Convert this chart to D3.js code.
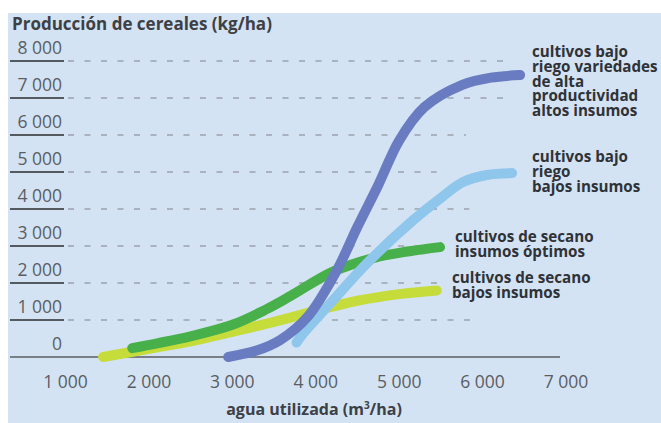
<!DOCTYPE html>
<html><head><meta charset="utf-8">
<script src="https://cdn.jsdelivr.net/npm/d3@7"></script>
<style>
html,body{margin:0;padding:0;background:#fff;}
svg{display:block;}
text{font-family:"Open Sans",sans-serif;}
</style></head>
<body>
<script>
// ---- data ----
const yTicks = [0,1000,2000,3000,4000,5000,6000,7000,8000];
const xTicks = [1000,2000,3000,4000,5000,6000,7000];
const yTickLabels = ["0","1 000","2 000","3 000","4 000","5 000","6 000","7 000","8 000"];
const xTickLabels = ["1 000","2 000","3 000","4 000","5 000","6 000","7 000"];

const secanoBajos = [[1450,0],[2000,220],[2500,420],[3000,680],[3500,950],[4000,1250],[4500,1520],[5000,1700],[5450,1800]];
const secanoOptimos = [[1800,240],[2100,370],[2500,560],[3000,870],[3400,1280],[3700,1650],[4200,2300],[4700,2680],[5100,2850],[5490,2970]];
const riegoBajos = [[3770,390],[3850,640],[4174,1450],[4617,2540],[5168,3700],[5500,4300],[5766,4730],[6050,4920],[6353,4970]];
const riegoAltos = [[2950,0],[3300,180],[3575,460],[3900,1080],[4250,2330],[4500,3520],[4750,4650],[5000,5850],[5300,6750],[5750,7350],[6100,7550],[6450,7620]];

const seriesNames = [
  ["cultivos de secano","bajos insumos"],
  ["cultivos de secano","insumos óptimos"],
  ["cultivos bajo","riego","bajos insumos"],
  ["cultivos bajo","riego variedades","de alta","productividad","altos insumos"]
];
const seriesColors = ["#c6dc3a","#48b04a","#8fc6ec","#6a7cc1"];
const seriesData = [secanoBajos, secanoOptimos, riegoBajos, riegoAltos];
// label anchor (in data units)
const labelAnchors = [[5633,2000],[5669,3108],[6592,5270],[6592,8108]];
// where each dashed gridline stops (in water units)
const gridEnds = {1000:5850,2000:5480,3000:5550,4000:5840,5000:5450,6000:5800,7000:6250,8000:6250};

const W=661,H=423;
const svg = d3.select("body").append("svg").attr("width",W).attr("height",H);
svg.append("rect").attr("x",8).attr("y",13).attr("width",W-8).attr("height",H-13).attr("fill","#d4e3f3");

const x = d3.scaleLinear().domain([1000,7000]).range([65.5,566]);
const y = d3.scaleLinear().domain([0,8000]).range([357,61]);

// y gridlines and labels
yTicks.forEach((v,i)=>{
  const yy = y(v);
  if (v===0) {
    svg.append("line").attr("x1",10).attr("x2",560).attr("y1",yy).attr("y2",yy)
      .attr("stroke","#7a7f86").attr("stroke-width",2);
  } else {
    svg.append("line").attr("x1",10).attr("x2",64).attr("y1",yy).attr("y2",yy)
      .attr("stroke","#555a60").attr("stroke-width",2.2);
    svg.append("line").attr("x1",68).attr("x2",x(gridEnds[v])).attr("y1",yy).attr("y2",yy)
      .attr("stroke","#9aa3ad").attr("stroke-width",1.3).attr("stroke-dasharray","6,10.5");
  }
  svg.append("text").attr("x",62).attr("y",yy-7).attr("text-anchor","end")
    .attr("font-size",17.5).attr("fill","#5a5e63").text(yTickLabels[i]);
});

// x tick labels
xTicks.forEach((v,i)=>{
  svg.append("text").attr("x",x(v)).attr("y",388).attr("text-anchor","middle")
    .attr("font-size",17.5).attr("fill","#5a5e63").text(xTickLabels[i]);
});

// titles
svg.append("text").attr("x",12).attr("y",30).attr("font-size",17).attr("font-weight","bold")
  .attr("fill","#3d4045").text("Producción de cereales (kg/ha)");
const xt = svg.append("text").attr("x",314).attr("y",415).attr("text-anchor","middle")
  .attr("font-size",16).attr("font-weight","bold").attr("fill","#3d4045");
xt.append("tspan").text("agua utilizada (m");
xt.append("tspan").attr("font-size",10).attr("dy",-6).text("3");
xt.append("tspan").attr("dy",6).text("/ha)");

// curves
const line = d3.line().x(d=>x(d[0])).y(d=>y(d[1])).curve(d3.curveCatmullRom.alpha(0.5));
seriesData.forEach((s,i)=>{
  svg.append("path").attr("d",line(s)).attr("fill","none").attr("stroke",seriesColors[i])
    .attr("stroke-width",10).attr("stroke-linecap","round").attr("stroke-linejoin","round");
});

// labels
seriesNames.forEach((lines,i)=>{
  lines.forEach((l,j)=>{
    svg.append("text").attr("x",x(labelAnchors[i][0])).attr("y",y(labelAnchors[i][1])+j*14.8)
      .attr("font-size",15.2).attr("font-weight","bold").attr("fill","#2f3236").text(l);
  });
});
</script>
</body></html>
